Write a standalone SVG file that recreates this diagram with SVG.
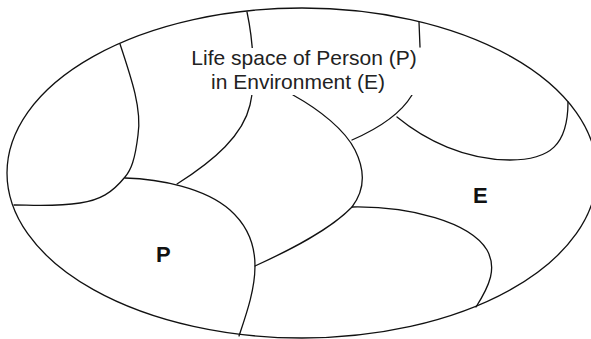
<svg xmlns="http://www.w3.org/2000/svg" width="591" height="339" viewBox="0 0 591 339">
<style>
.ln{fill:none;stroke:#111;stroke-width:1.3;stroke-linecap:round}
.lbl{font-family:"Liberation Sans",Arial,sans-serif;font-size:21px;fill:#222;text-anchor:middle}
.big{font-family:"Liberation Sans",Arial,sans-serif;font-size:22px;font-weight:bold;fill:#111}
</style>
<rect width="591" height="339" fill="#fff"/>
<g id="connectors">
<ellipse class="ln" cx="302" cy="173" rx="295" ry="165"/>
<path class="ln" d="M120,44 C132,80 142,110 138,135 C135,160 131,170 125,177 C112,193 100,200 80,203 C55,207 30,205 14,205"/>
<path class="ln" d="M125,178 C160,179 205,188 230,210 C248,226 255,245 255,266 C255,290 246,315 239,336"/>
<path class="ln" d="M247,12 C253,40 256,80 250,105 C243,135 215,160 177,184"/>
<path class="ln" d="M293,95 C320,110 345,130 355,150 C365,170 365,190 352,207 C330,230 290,250 255,266"/>
<path class="ln" d="M352,207 C410,206 470,222 487,250 C497,268 490,285 476,307"/>
<path class="ln" d="M352,140 C375,130 400,115 412,95"/>
<path class="ln" d="M397,117 C425,140 465,160 510,160 C550,160 568,145 568,102"/>
<path class="ln" d="M419,22 L420,47"/>
</g>
<g id="label">
<rect x="185" y="48" width="240" height="47" fill="#fff"/>
<text class="lbl" x="304" y="65">Life space of Person (P)</text>
<text class="lbl" x="298" y="89">in Environment (E)</text>
</g>
<g id="P"><text class="big" x="156" y="262">P</text></g>
<g id="E"><text class="big" x="473" y="203">E</text></g>
</svg>
